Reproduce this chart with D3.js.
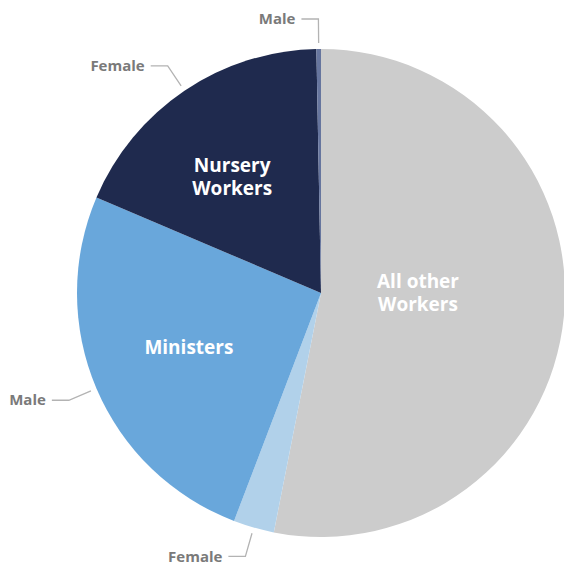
<!DOCTYPE html>
<html>
<head>
<meta charset="utf-8">
<script src="https://cdn.jsdelivr.net/npm/d3@7"></script>
<style>
  html, body { margin: 0; padding: 0; background: #fff; }
  svg { display: block; font-family: "Open Sans", sans-serif; }
</style>
</head>
<body>
<svg id="chart"></svg>
<script>
// slices, clockwise from 12 o'clock (percent of workers)
const groups = ["All other Workers", "Ministers", "Ministers", "Nursery Workers", "Nursery Workers"];
const genders = ["", "Female", "Male", "Female", "Male"];
const values = [53.1, 2.7, 25.6, 18.3, 0.3];
const colors = ["#cccccc", "#b1d1ea", "#69a7db", "#1f2a4e", "#66759e"];

// inner group labels
const groupNames = ["All other Workers", "Ministers", "Nursery Workers"];
const groupLines = [["All other", "Workers"], ["Ministers"], ["Nursery", "Workers"]];

const width = 564, height = 567;
const cx = 321, cy = 293;
const radius = 244;

const slices = values.map((v, i) => ({group: groups[i], gender: genders[i], value: v, color: colors[i]}));

const svg = d3.select("#chart")
  .attr("width", width)
  .attr("height", height);

const g = svg.append("g").attr("transform", `translate(${cx},${cy})`);

const pie = d3.pie().sort(null).value(d => d.value);
const arcs = pie(slices);

const arc = d3.arc().innerRadius(0).outerRadius(radius);

g.selectAll("path.slice")
  .data(arcs)
  .join("path")
    .attr("class", "slice")
    .attr("d", arc)
    .attr("fill", d => d.data.color);

// group labels: angle nudge (deg) and radius from centre
const labelPos = {
  "All other Workers": {da: -5.6, r: 97},
  "Ministers": {da: 5.4, r: 143},
  "Nursery Workers": {da: -4, r: 146}
};
groupNames.forEach((name, i) => {
  const parts = arcs.filter(a => a.data.group === name);
  const a0 = d3.min(parts, p => p.startAngle), a1 = d3.max(parts, p => p.endAngle);
  const mid = (a0 + a1) / 2 + labelPos[name].da * Math.PI / 180;
  const r = labelPos[name].r;
  const x = r * Math.sin(mid), y = -r * Math.cos(mid);
  const lines = groupLines[i];
  const t = g.append("text")
    .attr("text-anchor", "middle")
    .attr("fill", "#fff")
    .attr("font-size", 19)
    .attr("font-weight", 700);
  lines.forEach((ln, j) => {
    t.append("tspan")
      .attr("x", x)
      .attr("y", y + (j - (lines.length - 1) / 2) * 23)
      .attr("dy", "0.35em")
      .text(ln);
  });
});

// gender callouts
const callouts = arcs.filter(a => a.data.gender);
const ca = g.selectAll("g.callout")
  .data(callouts)
  .join("g")
    .attr("class", "callout");

const pt = (a, r) => [r * Math.sin(a), -r * Math.cos(a)];

ca.append("polyline")
  .attr("fill", "none")
  .attr("stroke", "#b3b3b3")
  .attr("stroke-width", 1.3)
  .attr("points", d => {
    const mid = (d.startAngle + d.endAngle) / 2;
    const p1 = pt(mid, radius + 6);
    const p2 = pt(mid, radius + 30);
    const p3 = [p2[0] - 17, p2[1]];
    return [p1, p2, p3].map(p => p.join(",")).join(" ");
  });

ca.append("text")
  .attr("x", d => pt((d.startAngle + d.endAngle) / 2, radius + 30)[0] - 23)
  .attr("y", d => pt((d.startAngle + d.endAngle) / 2, radius + 30)[1])
  .attr("dy", "0.35em")
  .attr("text-anchor", "end")
  .attr("fill", "#7a7a7a")
  .attr("font-size", 15)
  .attr("font-weight", 700)
  .text(d => d.data.gender);
</script>
</body>
</html>
